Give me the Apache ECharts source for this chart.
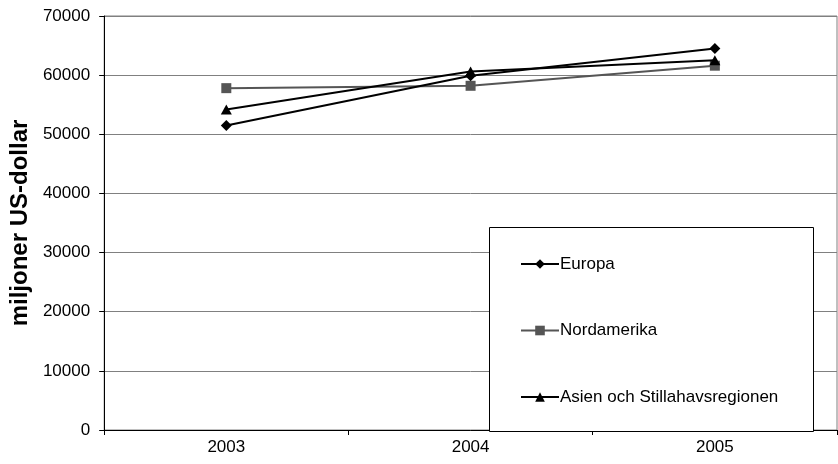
<!DOCTYPE html>
<html>
<head>
<meta charset="utf-8">
<script src="https://cdn.jsdelivr.net/npm/echarts@6/dist/echarts.min.js"></script>
<style>
  html, body { margin: 0; padding: 0; background: #fff; }
  #chart { width: 838px; height: 464px; }
</style>
</head>
<body>
<div id="chart"></div>
<script>
// Years on the category axis
var years = ['2003', '2004', '2005'];

// Values per region, millions of US dollars
var europa = [51500, 59900, 64500];
var nordamerika = [57800, 58200, 61600];
var asien = [54200, 60600, 62500];

// Value axis ticks
var yTicks = [0, 10000, 20000, 30000, 40000, 50000, 60000, 70000];

var FONT = 'Arial, "Liberation Sans", sans-serif';

var chart = echarts.init(document.getElementById('chart'), null, { renderer: 'canvas' });

chart.setOption({
  animation: false,
  backgroundColor: '#ffffff',
  grid: {
    left: 103, right: 1, top: 16, bottom: 34,
    show: true, borderColor: '#808080', borderWidth: 1,
    backgroundColor: 'transparent'
  },
  xAxis: {
    type: 'category',
    data: years,
    boundaryGap: true,
    axisLine: { show: true, lineStyle: { color: '#000', width: 1 } },
    axisTick: { show: true, length: 5, lineStyle: { color: '#000' } },
    axisLabel: { color: '#000', fontSize: 17, fontFamily: FONT, margin: 9 },
    splitLine: { show: false }
  },
  yAxis: {
    type: 'value',
    min: yTicks[0],
    max: yTicks[yTicks.length - 1],
    interval: yTicks[1] - yTicks[0],
    name: 'miljoner US-dollar',
    nameLocation: 'middle',
    nameRotate: 90,
    nameGap: 72,
    nameTextStyle: { color: '#000', fontSize: 24, fontWeight: 'bold', fontFamily: FONT },
    axisLine: { show: true, lineStyle: { color: '#000', width: 1 } },
    axisTick: { show: true, length: 5, lineStyle: { color: '#000' } },
    axisLabel: {
      color: '#000', fontSize: 17, fontFamily: FONT, margin: 14,
      formatter: function (v) { return String(v); }
    },
    splitLine: { show: true, lineStyle: { color: '#808080', width: 1 } }
  },
  graphic: [{
    type: 'rect',
    shape: { x: 489.5, y: 227.5, width: 324, height: 204 },
    style: { fill: '#fff', stroke: '#000', lineWidth: 1 },
    z: 50
  }],
  legend: {
    orient: 'vertical',
    left: 515,
    top: 249,
    itemGap: 46.5,
    itemWidth: 38,
    itemHeight: 12,
    z: 60,
    textStyle: { color: '#000', fontSize: 17, fontFamily: FONT, lineHeight: 20, padding: [0, 0, 0, -4] },
    data: ['Europa', 'Nordamerika', 'Asien och Stillahavsregionen']
  },
  series: [
    {
      name: 'Europa',
      type: 'line',
      data: europa,
      symbol: 'diamond',
      symbolSize: [11, 11],
      lineStyle: { color: '#000', width: 2 },
      itemStyle: { color: '#000' },
      z: 3
    },
    {
      name: 'Nordamerika',
      type: 'line',
      data: nordamerika,
      symbol: 'rect',
      symbolSize: 10,
      lineStyle: { color: '#555', width: 2 },
      itemStyle: { color: '#555' },
      z: 2
    },
    {
      name: 'Asien och Stillahavsregionen',
      type: 'line',
      data: asien,
      symbol: 'triangle',
      symbolSize: [11, 10],
      lineStyle: { color: '#000', width: 2 },
      itemStyle: { color: '#000' },
      z: 4
    }
  ]
});
</script>
</body>
</html>
